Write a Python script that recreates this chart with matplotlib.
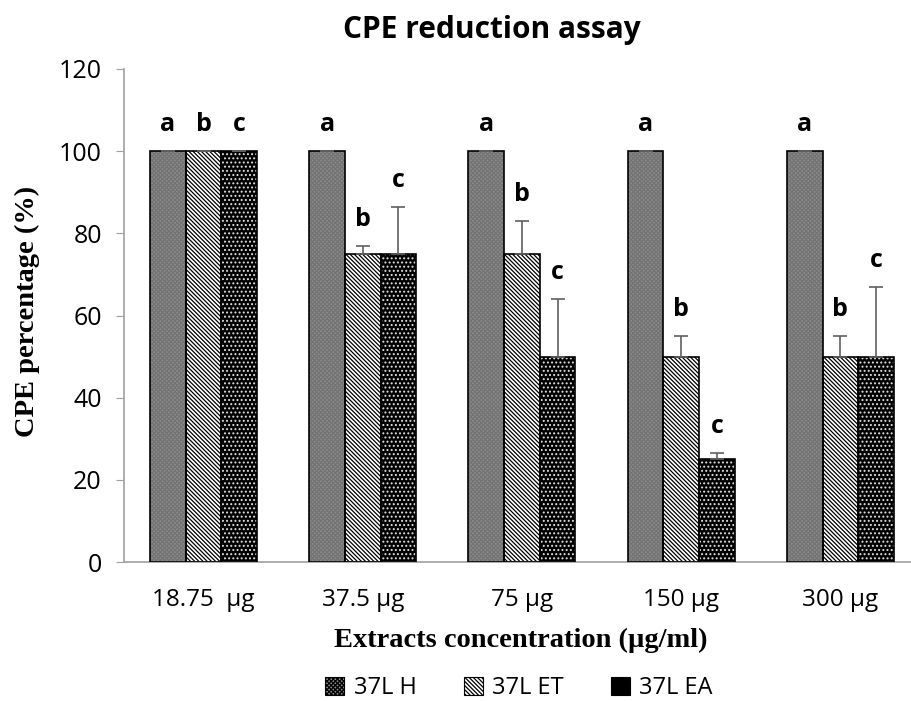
import numpy as np
import matplotlib

matplotlib.use("Agg")
import matplotlib.pyplot as plt  # noqa: E402
from matplotlib.patches import Patch  # noqa: E402

# data
categories = ["18.75  \u00b5g", "37.5 \u00b5g", "75 \u00b5g", "150 \u00b5g", "300 \u00b5g"]
series_names = ["37L H", "37L ET", "37L EA"]
h_vals = [100, 100, 100, 100, 100]
et_vals = [100, 75, 75, 50, 50]
ea_vals = [100, 75, 50, 25, 50]
h_err = [0, 0, 0, 0, 0]
et_err = [0, 2, 8, 5, 5]
ea_err = [0, 11.5, 14, 1.6, 17]
letters = ["a", "b", "c"]

sans = ["Open Sans", "DejaVu Sans"]
serif = ["Liberation Serif", "DejaVu Serif"]
plt.rcParams["hatch.linewidth"] = 0.9

fig = plt.figure(figsize=(9.12, 7.01), dpi=100)
ax = fig.add_axes([124 / 912, 139 / 701, 788 / 912, 493 / 701])

styles = [
    dict(face="#8c8c8c", hatch="xxxxxxxx", hcol="#737373"),
    dict(face="white", hatch="\\" * 8, hcol="black"),
    dict(face="black", hatch="....", hcol="#e0e0e0"),
]
vals = [h_vals, et_vals, ea_vals]
errs = [h_err, et_err, ea_err]

x = np.arange(len(categories))
w = 0.224
for i, (v, e, st) in enumerate(zip(vals, errs, styles)):
    xs = x + (i - 1) * w
    ax.bar(xs, v, w, color=st["face"], hatch=st["hatch"], edgecolor=st["hcol"],
           linewidth=0, zorder=2)
    ax.bar(xs, v, w, fill=False, edgecolor="black", linewidth=1.2, zorder=3)
    ax.errorbar(xs, v, yerr=[np.zeros(len(e)), e], fmt="none", ecolor="#606060",
                elinewidth=1.2, capsize=5, capthick=1.2, zorder=4)
    for xi, vi, ei in zip(xs, v, e):
        ax.annotate(letters[i], (xi, vi + ei), xytext=(0, 10), textcoords="offset points",
                    ha="center", va="bottom", fontsize=18, fontweight="bold", family=sans)

ax.set_xlim(-0.5, 4.45)
ax.set_ylim(0, 120)
ax.set_yticks(range(0, 121, 20))
ax.set_xticks(x)
ax.set_xticklabels(categories, family=sans, fontsize=17.5)
for lab in ax.get_yticklabels():
    lab.set_family(sans)
    lab.set_fontsize(18)
ax.tick_params(axis="x", length=0, pad=19)
ax.tick_params(axis="y", length=6, color="#a0a0a0", pad=10)
for s in ["top", "right"]:
    ax.spines[s].set_visible(False)
for s in ["left", "bottom"]:
    ax.spines[s].set_color("#a0a0a0")
    ax.spines[s].set_linewidth(1.2)

fig.text(492 / 912, 1 - 30 / 701, "CPE reduction assay", ha="center", va="center",
         fontsize=21.5, fontweight="bold", family=sans)
fig.text(27 / 912, 1 - 311 / 701, "CPE percentage (%)", rotation=90, ha="center",
         va="center", fontsize=20.5, fontweight="bold", family=serif)
fig.text(521 / 912, 1 - 640 / 701, "Extracts concentration (\u00b5g/ml)", ha="center",
         va="center", fontsize=20.5, fontweight="bold", family=serif)

handles = [Patch(facecolor=st["face"], hatch=st["hatch"], edgecolor="black", linewidth=0.8)
           for st in styles]
fig.legend(handles, series_names, loc="center", bbox_to_anchor=(519 / 912, 1 - 688 / 701),
           ncol=3, frameon=False, prop={"family": sans, "size": 17},
           handlelength=0.8, handleheight=0.8, handletextpad=0.4, columnspacing=2.0)

fig.savefig("out.png", dpi=100)
